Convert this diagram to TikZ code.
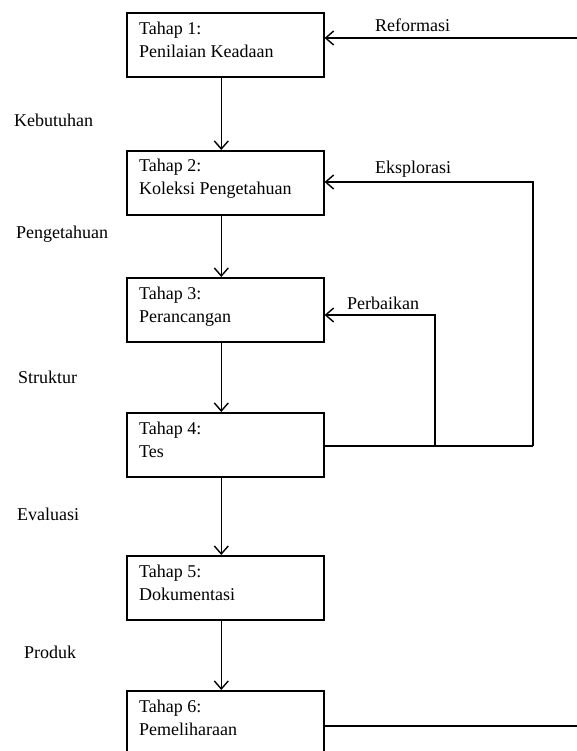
\documentclass[tikz,border=0pt]{standalone}
\usepackage{fontspec}
\setmainfont{Liberation Serif}
\usetikzlibrary{arrows.meta}
\begin{document}
\begin{tikzpicture}[x=1pt,y=-1pt,
  stage/.style={draw, line width=1.6pt, minimum width=197pt, minimum height=64pt, inner sep=0pt, anchor=north west},
  stagetext/.style={anchor=base west, align=left, inner sep=0pt, font=\fontsize{18}{23}\selectfont},
  lbl/.style={anchor=base west, inner sep=0pt, font=\fontsize{18}{20}\selectfont},
  flow/.style={line width=1.6pt, -{Straight Barb[length=8pt,width=14pt,line width=1.4pt]}},
  wire/.style={line width=1.6pt}]
\useasboundingbox (0,0) rectangle (577,751);
\begin{scope}
\clip (0,0) rectangle (577,751);

% stage boxes
\node[stage] (s1) at (126,12) {};
\node[stage] (s2) at (126,150) {};
\node[stage] (s3) at (126,277) {};
\node[stage] (s4) at (126,412) {};
\node[stage] (s5) at (126,555) {};
\node[stage, minimum height=80pt] (s6) at (126,690) {};

% stage captions (anchored at the baseline of the second line)
\node[stagetext] (t1) at (139,58) {Tahap 1:\\Penilaian Keadaan};
\node[stagetext] (t2) at (139,195) {Tahap 2:\\Koleksi Pengetahuan};
\node[stagetext] (t3) at (139,322) {Tahap 3:\\Perancangan};
\node[stagetext] (t4) at (139,457) {Tahap 4:\\Tes};
\node[stagetext] (t5) at (139,600) {Tahap 5:\\Dokumentasi};
\node[stagetext] (t6) at (139,735) {Tahap 6:\\Pemeliharaan};

% outputs between stages
\node[lbl] (k) at (14,127) {Kebutuhan};
\node[lbl] (p) at (16,238) {Pengetahuan};
\node[lbl] (st) at (18,383) {Struktur};
\node[lbl] (ev) at (17,520) {Evaluasi};
\node[lbl] (pr) at (24,658) {Produk};

% main downward flow
\foreach \a/\b in {s1/s2,s2/s3,s3/s4,s4/s5,s5/s6}
  \draw[flow] ([xshift=-4pt]\a.south) -- ([xshift=-4pt]\b.north);

% feedback loops
\coordinate (eright) at (577,38);
\coordinate (mright) at (577,726);
\coordinate (ex) at (533,446);
\coordinate (pb) at (435,446);

\draw[flow] (eright) -- (s1.east |- eright);
\node[lbl] (ref) at (375,32) {Reformasi};

\draw[wire] (s4.east |- ex) -- (ex);
\draw[flow] (ex) |- (s2.east |- 0,182);
\node[lbl] (eks) at (375,174) {Eksplorasi};

\draw[flow] (pb) |- (s3.east |- 0,315);
\node[lbl] (per) at (347,309) {Perbaikan};

\draw[wire] (s6.east |- mright) -- (mright);
\end{scope}
\end{tikzpicture}
\end{document}
